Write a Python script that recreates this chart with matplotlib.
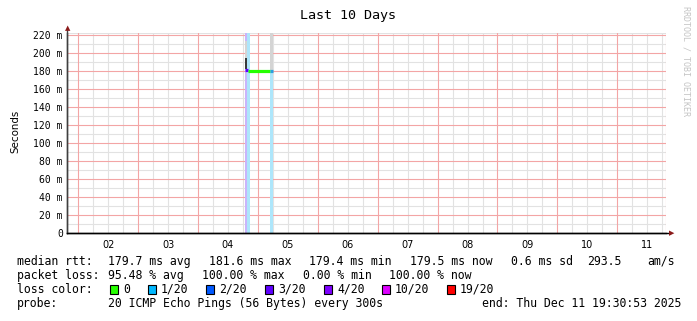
import matplotlib
matplotlib.use("Agg")
import matplotlib.pyplot as plt
from matplotlib.patches import Rectangle
import numpy as np

W, H = 697, 321

# ---------------- data ----------------
day_labels = ["02", "03", "04", "05", "06", "07", "08", "09", "10", "11"]
day_values = [2, 3, 4, 5, 6, 7, 8, 9, 10, 11]          # day of December
x_start = 1 + 19.515 / 24                                  # Dec 1 19:30:53
x_end = x_start + 10
y_ticks = [0, 20, 40, 60, 80, 100, 120, 140, 160, 180, 200, 220]   # ms
y_tick_labels = ["0", "20 m", "40 m", "60 m", "80 m", "100 m", "120 m",
                 "140 m", "160 m", "180 m", "200 m", "220 m"]
y_top = 222.2

# loss background columns
loss_t0 = [4.780, 4.825, 5.197]
loss_t1 = [4.825, 4.868, 5.252]
loss_bg = ["#c9b4fb", "#ade6fb", "#ade6fb"]

# smoke (light)
smoke_t0 = [4.780, 5.197]
smoke_t1 = [4.825, 5.252]
smoke_lo = [181, 181]
smoke_hi = [213, 240]
# smoke (dark)
dsmoke_t0 = [4.780]
dsmoke_t1 = [4.825]
dsmoke_lo = [182]
dsmoke_hi = [194]

# median rtt segments
med_t0 = [4.780, 4.830, 5.197]
med_t1 = [4.830, 5.197, 5.252]
med_v = [181, 180, 180]
med_c = ["#5e00ff", "#26ff00", "#2aa0e0"]

# legend
loss_names = ["0", "1/20", "2/20", "3/20", "4/20", "10/20", "19/20"]
loss_colors = ["#26ff00", "#00b8ff", "#0059ff", "#5e00ff", "#7e00ff", "#dd00ff", "#ff0000"]
loss_box_x = [110, 148, 206, 265, 324, 382, 447]

rtt_texts = ["median rtt:", "179.7 ms avg", "181.6 ms max", "179.4 ms min",
             "179.5 ms now", "0.6 ms sd", "293.5", "am/s"]
rtt_x = [16.6, 107.6, 208.9, 309, 410, 511, 587, 647.7]
loss_texts = ["packet loss:", "95.48 % avg", "100.00 % max", "0.00 % min", "100.00 % now"]
loss_x = [16.6, 107.6, 201.7, 302.6, 389]

# ---------------- figure ----------------
fig = plt.figure(figsize=(W / 100, H / 100), dpi=100, facecolor="white")

def fx(px):
    return px / W

def fy(py):
    return 1 - py / H

ax_l, ax_r, ax_t, ax_b = 67, 666, 33, 233
ax = fig.add_axes([fx(ax_l), fy(ax_b), (ax_r - ax_l) / W, (ax_b - ax_t) / H])
ax.set_xlim(x_start, x_end)
ax.set_ylim(0, y_top)
ax.set_facecolor("white")

red = "#f3a5a5"
gray = "#e2e2e2"
# minor grid
for t in np.arange(np.ceil(x_start * 4) / 4, x_end, 0.25):
    if abs(t - round(t)) > 1e-6:
        ax.axvline(t, color=gray, lw=0.8, zorder=1)
for v in range(10, 230, 20):
    ax.axhline(v, color=gray, lw=0.8, zorder=1)
# major grid
for d in day_values:
    ax.axvline(d, color=red, lw=0.8, zorder=1.5)
for v in y_ticks[1:]:
    ax.axhline(v, color=red, lw=0.8, zorder=1.5)

# data
for a, b, c in zip(loss_t0, loss_t1, loss_bg):
    ax.axvspan(a, b, color=c, lw=0, zorder=2)
ax.bar(smoke_t0, np.array(smoke_hi) - np.array(smoke_lo), bottom=smoke_lo,
       width=np.array(smoke_t1) - np.array(smoke_t0), align="edge",
       color="#d4d4d4", lw=0, zorder=3)
ax.bar(dsmoke_t0, np.array(dsmoke_hi) - np.array(dsmoke_lo), bottom=dsmoke_lo,
       width=np.array(dsmoke_t1) - np.array(dsmoke_t0), align="edge",
       color="#3a3a3a", lw=0, zorder=3)
ax.hlines(med_v, med_t0, med_t1, colors=med_c, lw=2.3, zorder=4)

# axes styling
for s in ["top", "right"]:
    ax.spines[s].set_visible(False)
ax.spines["left"].set_color("#404040")
ax.spines["bottom"].set_color("black")
ax.spines["left"].set_linewidth(1.0)
ax.spines["bottom"].set_linewidth(1.0)
ax.axhline(y_top, color=gray, lw=0.8, zorder=1)
ax.axvline(x_end - 0.001, color=red, lw=0.8, zorder=1.5)

ax.set_yticks(y_ticks)
ax.set_yticklabels(y_tick_labels, family="DejaVu Sans Mono", fontsize=7)
ax.set_xticks([d + 0.5 for d in day_values])
ax.set_xticklabels(day_labels, family="DejaVu Sans", fontsize=7)
ax.tick_params(axis="both", length=0, pad=3)
ax.tick_params(axis="x", pad=5)

# axis arrows
fig.add_artist(plt.Line2D([fx(67), fx(67)], [fy(233), fy(30)], color="#404040", lw=1.0))
fig.add_artist(plt.Line2D([fx(67), fx(670)], [fy(233), fy(233)], color="black", lw=1.0))
fig.text(fx(67.5), fy(28.5), "▲", color="#8b1a1a", fontsize=5, ha="center", va="center")
fig.text(fx(672), fy(233), "▶", color="#8b1a1a", fontsize=5, ha="center", va="center")

# labels
fig.text(fx(348.5), fy(16), "Last 10 Days", family="DejaVu Sans Mono", fontsize=9.6,
         ha="center", va="center")
fig.text(fx(15), fy(131), "Seconds", family="DejaVu Sans", fontsize=7.4,
         rotation=90, ha="center", va="center")
fig.text(fx(686), fy(61), "RRDTOOL / TOBI OETIKER", family="DejaVu Sans Mono",
         fontsize=6, rotation=270, ha="center", va="center", color="#c4c4c4")

FS = 8.3
mono = dict(family="DejaVu Sans Mono", fontsize=FS, va="baseline", ha="left")
rows = [265, 279, 293, 307]   # baselines in px from top
for t, x in zip(rtt_texts, rtt_x):
    fig.text(fx(x), fy(rows[0]), t, **mono)
for t, x in zip(loss_texts, loss_x):
    fig.text(fx(x), fy(rows[1]), t, **mono)
fig.text(fx(16.6), fy(rows[2]), "loss color:", **mono)
for name, col, x in zip(loss_names, loss_colors, loss_box_x):
    fig.add_artist(Rectangle((fx(x), fy(293.5)), 8 / W, 9 / H, facecolor=col,
                             edgecolor="black", lw=0.8, transform=fig.transFigure))
    fig.text(fx(x + 13), fy(rows[2]), name, **mono)
fig.text(fx(16.6), fy(rows[3]), "probe:", **mono)
fig.text(fx(107.6), fy(rows[3]), "20 ICMP Echo Pings (56 Bytes) every 300s", **mono)
fig.text(fx(681), fy(rows[3]), "end: Thu Dec 11 19:30:53 2025",
         family="DejaVu Sans Mono", fontsize=FS, va="baseline", ha="right")

fig.savefig("out.png", dpi=100, facecolor="white")
